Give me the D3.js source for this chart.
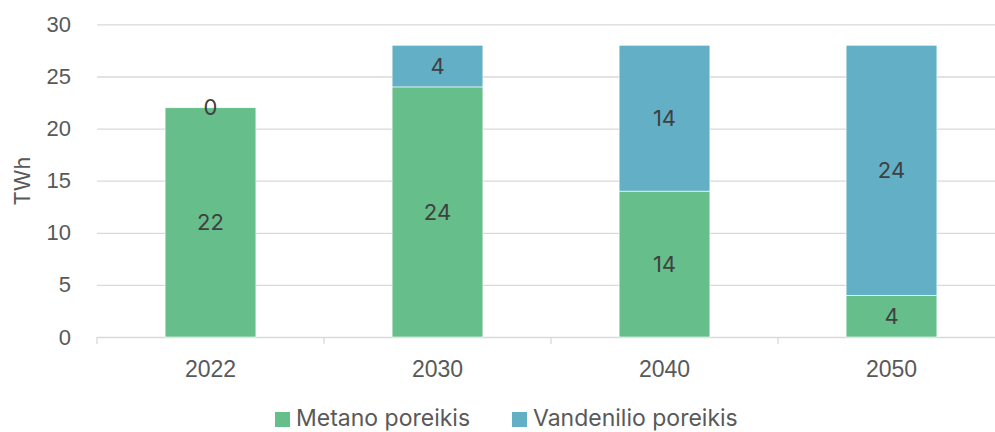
<!DOCTYPE html>
<html>
<head>
<meta charset="utf-8">
<script src="https://cdn.jsdelivr.net/npm/d3@7"></script>
<style>
  body { margin: 0; background: #fff; }
  svg { display: block; font-family: Inter, "Open Sans", sans-serif; }
</style>
</head>
<body>
<div id="chart"></div>
<script>
// data
const years = ["2022", "2030", "2040", "2050"];
const metanas = [22, 24, 14, 4];
const vandenilis = [0, 4, 14, 24];
const seriesNames = ["Metano poreikis", "Vandenilio poreikis"];
const seriesColors = ["#66bf8a", "#63afc6"];
const yTicks = [0, 5, 10, 15, 20, 25, 30];

const W = 995, H = 432;
const margin = { top: 24.4, left: 97 };
const plotW = 908, plotH = 312.6;

const svg = d3.select("#chart").append("svg")
  .attr("width", W)
  .attr("height", H);

const g = svg.append("g")
  .attr("transform", "translate(" + margin.left + "," + margin.top + ")");

const x = d3.scaleBand().domain(years).range([0, plotW]);
const y = d3.scaleLinear().domain([0, 30]).range([plotH, 0]);

// y axis + gridlines
const yAxis = g.append("g")
  .call(d3.axisLeft(y).tickValues(yTicks).tickSize(-plotW).tickPadding(26));
yAxis.select(".domain").remove();
yAxis.selectAll("line").attr("stroke", "#d9d9d9").attr("stroke-width", 1.3);
yAxis.selectAll("text")
  .attr("fill", "#595959")
  .style("font-size", "22px");

// x axis: labels centred, tick marks on band boundaries
const xAxis = g.append("g")
  .attr("transform", "translate(0," + plotH + ")")
  .call(d3.axisBottom(x).tickSize(0).tickPadding(24));
xAxis.select(".domain").remove();
xAxis.selectAll("text")
  .attr("fill", "#595959")
  .style("font-size", "23px");

const bounds = years.map(d => x(d)).concat([x(years[years.length - 1]) + x.bandwidth()]);
g.append("g").selectAll("line")
  .data(bounds)
  .enter().append("line")
  .attr("x1", d => d).attr("x2", d => d)
  .attr("y1", plotH).attr("y2", plotH + 7)
  .attr("stroke", "#d9d9d9")
  .attr("stroke-width", 1.3);

// stacked bars
const rows = years.map((yr, i) => ({ year: yr, m: metanas[i], v: vandenilis[i] }));
const stack = d3.stack().keys(["m", "v"])(rows);
const barW = x.bandwidth() * 0.4;

const layers = g.selectAll(".layer")
  .data(stack)
  .enter().append("g")
  .attr("fill", (d, i) => seriesColors[i]);

layers.selectAll("rect")
  .data(d => d)
  .enter().append("rect")
  .attr("x", d => x(d.data.year) + (x.bandwidth() - barW) / 2)
  .attr("y", d => y(d[1]))
  .attr("width", barW)
  .attr("height", d => y(d[0]) - y(d[1]))
  .attr("stroke", "#ffffff")
  .attr("stroke-width", 0.6);

// data labels
layers.selectAll("text")
  .data(d => d.map(p => ({ p: p, key: d.key })))
  .enter().append("text")
  .attr("x", d => x(d.p.data.year) + x.bandwidth() / 2)
  .attr("y", d => y((d.p[0] + d.p[1]) / 2))
  .attr("dy", "0.35em")
  .attr("text-anchor", "middle")
  .attr("fill", "#404040")
  .style("font-size", "22px")
  .text(d => d.p.data[d.key]);

// axis title
svg.append("text")
  .attr("transform", "translate(30,181) rotate(-90)")
  .attr("text-anchor", "middle")
  .attr("fill", "#595959")
  .style("font-size", "22px")
  .text("TWh");

// legend
const legendX = [275, 512];
const legend = svg.selectAll(".legend")
  .data(seriesNames)
  .enter().append("g")
  .attr("transform", (d, i) => "translate(" + legendX[i] + ",412)");
legend.append("rect")
  .attr("width", 15).attr("height", 15)
  .attr("fill", (d, i) => seriesColors[i]);
legend.append("text")
  .attr("x", 21).attr("y", 14)
  .attr("fill", "#595959")
  .style("font-size", "23px")
  .text(d => d);
</script>
</body>
</html>
